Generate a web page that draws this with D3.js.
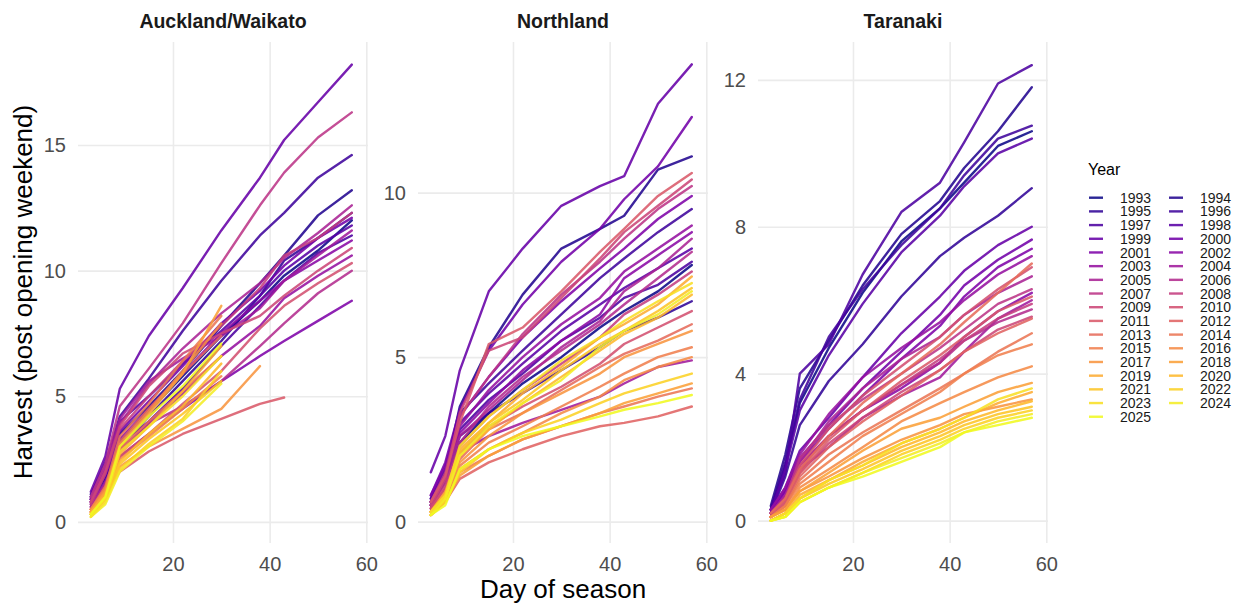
<!DOCTYPE html>
<html>
<head>
<meta charset="utf-8">
<script src="https://cdn.jsdelivr.net/npm/d3@7"></script>
<style>
  body { margin: 0; background: #fff; }
  text { font-family: "Liberation Sans", Arial, sans-serif; }
</style>
</head>
<body>
<div id="chart"></div>
<script>
// Cumulative harvest by day of season, one facet per region

const regions = ["Auckland/Waikato", "Northland", "Taranaki"];
const years = d3.range(1993, 2026);
const days = [3, 6, 9, 15, 22, 30, 38, 43, 50, 57];

// values at each day above, one row per year (1993..2025); short rows = season ended
const auckland = [
  [0.9, 1.8, 3.2, 4.4, 5.8, 7.4, 8.8, 9.8, 10.8, 12.0],
  [1.0, 2.0, 3.5, 4.6, 6.0, 7.8, 9.5, 10.6, 12.2, 13.2],
  [0.8, 1.7, 3.0, 4.2, 5.6, 7.2, 9.0, 10.4, 11.3, 12.3],
  [1.1, 2.3, 4.2, 5.7, 7.6, 9.6, 11.4, 12.3, 13.7, 14.6],
  [0.9, 1.8, 3.1, 4.0, 5.3, 7.0, 8.6, 9.6, 10.7, 11.4],
  [1.0, 2.4, 4.0, 5.0, 6.3, 7.6, 9.0, 10.0, 11.0, 11.8],
  [1.2, 2.6, 5.3, 7.4, 9.3, 11.6, 13.7, 15.2, 16.7, 18.2],
  [0.9, 2.0, 3.6, 4.8, 6.2, 7.9, 9.2, 10.2, 11.3, 12.1],
  [0.7, 1.5, 2.6, 3.5, 4.5, 5.6, 6.6, 7.2, 8.0, 8.8],
  [0.8, 1.9, 3.3, 4.5, 5.9, 7.5, 8.8, 9.6, 10.4, 11.2],
  [0.6, 1.6, 2.8, 3.9, 5.1, 6.6, 7.8, 8.9, 9.8, 10.6],
  [0.9, 2.1, 4.1, 5.6, 6.5, 7.4, 8.5, 9.6, 10.6, 11.6],
  [0.8, 2.1, 3.9, 5.5, 6.9, 8.3, 9.5, 10.5, 11.5, 12.6],
  [0.6, 1.5, 2.9, 3.9, 4.6, 5.6, 7.0, 7.9, 9.1, 10.0],
  [1.0, 2.3, 4.6, 6.1, 7.9, 10.3, 12.6, 13.9, 15.3, 16.3],
  [0.7, 1.9, 3.7, 5.0, 6.4, 7.8, 9.3, 10.6, 11.3, 12.3],
  [0.8, 2.0, 3.8, 5.4, 6.7, 7.5, 8.2, 9.0, 10.0, 10.9],
  [0.5, 1.4, 2.6, 3.5, 4.7, 6.0, 7.7, 8.6, 9.5, 10.3],
  [0.4, 1.1, 2.0, 2.8, 3.5, 4.1, 4.7, 4.95],
  [0.5, 1.3, 3.2, 4.5, 5.9, 7.4],
  [0.4, 1.2, 2.9, 4.0, 5.2, 6.6],
  [0.5, 1.4, 3.4, 4.7, 6.4, 8.2],
  [0.3, 1.1, 2.5, 3.4, 4.5, 5.8],
  [0.5, 1.3, 3.1, 4.4, 6.0, 7.9],
  [0.3, 0.9, 2.2, 3.0, 3.7, 4.5, 6.2],
  [0.4, 1.2, 3.0, 4.3, 5.9, 8.6],
  [0.4, 1.1, 2.7, 3.8, 5.2, 7.0],
  [0.3, 1.0, 2.4, 3.5, 4.6, 6.3],
  [0.3, 0.9, 2.3, 3.3, 4.3, 5.6],
  [0.2, 0.8, 2.1, 3.1, 4.1, 6.0],
  [0.3, 0.9, 2.8, 3.8, 5.0, 6.6],
  [0.2, 0.7, 2.0, 3.0, 4.0, 5.5],
  [0.3, 1.0, 3.0, 4.2, 5.4, 7.1]
];

const northland = [
  [0.5, 1.2, 2.4, 3.3, 4.2, 5.0, 5.9, 6.4, 7.0, 7.8],
  [0.6, 1.5, 3.5, 5.3, 6.9, 8.3, 8.9, 9.3, 10.7, 11.1],
  [0.6, 1.4, 2.6, 3.3, 3.9, 4.6, 5.3, 5.8, 6.2, 6.7],
  [0.7, 1.6, 3.3, 4.2, 5.2, 6.3, 7.4, 8.0, 8.8, 9.5],
  [0.5, 1.3, 2.8, 3.7, 4.5, 5.5, 6.2, 6.8, 7.2, 7.9],
  [0.7, 1.5, 3.0, 3.9, 4.8, 5.8, 6.6, 7.1, 7.7, 8.3],
  [1.5, 2.6, 4.6, 7.0, 8.3, 9.6, 10.2, 10.5, 12.7, 13.9],
  [0.8, 1.8, 3.4, 5.2, 6.6, 7.9, 8.9, 9.8, 10.8, 12.3],
  [0.8, 1.7, 3.2, 4.4, 5.6, 6.7, 7.7, 8.3, 9.2, 9.9],
  [0.6, 1.4, 2.7, 3.6, 4.6, 5.5, 6.3, 7.4, 8.1, 8.8],
  [0.5, 1.3, 2.9, 4.0, 5.0, 6.0, 6.8, 7.6, 8.3, 9.0],
  [0.4, 1.0, 2.1, 2.6, 3.0, 3.4, 3.8, 4.2, 4.7, 4.9],
  [0.6, 1.4, 2.6, 3.4, 4.3, 5.3, 6.1, 7.0, 7.7, 8.6],
  [0.5, 1.2, 2.4, 3.5, 4.4, 5.2, 6.0, 6.6, 7.4, 8.2],
  [0.6, 1.5, 3.2, 4.4, 5.7, 6.9, 7.9, 8.6, 9.5, 10.2],
  [0.4, 1.1, 2.3, 3.2, 4.0, 4.8, 5.6, 6.3, 6.9, 7.6],
  [0.5, 1.3, 3.3, 5.2, 5.6, 6.8, 8.0, 8.8, 9.6, 10.4],
  [0.4, 1.0, 2.1, 2.9, 3.5, 4.1, 4.8, 5.4, 5.9, 6.4],
  [0.6, 1.4, 3.0, 5.4, 5.9, 7.0, 8.2, 8.9, 9.9, 10.6],
  [0.2, 0.6, 1.3, 1.8, 2.2, 2.6, 2.9, 3.0, 3.2, 3.5],
  [0.3, 0.9, 1.9, 2.8, 3.3, 4.0, 4.7, 5.1, 5.5, 6.0],
  [0.3, 0.7, 1.5, 2.0, 2.5, 2.9, 3.3, 3.5, 3.8, 4.05],
  [0.3, 0.8, 1.7, 2.4, 2.9, 3.5, 4.1, 4.5, 5.0, 5.3],
  [0.2, 0.7, 1.6, 2.2, 2.7, 3.3, 3.8, 4.3, 4.7, 5.0],
  [0.3, 0.8, 1.8, 2.6, 3.3, 3.9, 4.5, 5.0, 5.4, 5.8],
  [0.2, 0.6, 1.4, 2.0, 2.5, 2.9, 3.3, 3.6, 3.9, 4.2],
  [0.3, 0.9, 2.2, 3.0, 3.9, 4.7, 5.6, 6.0, 6.6, 7.45],
  [0.3, 0.8, 2.0, 2.8, 3.6, 4.4, 5.2, 5.7, 6.2, 6.9],
  [0.2, 0.7, 2.1, 3.0, 3.7, 4.6, 5.4, 5.8, 6.4, 7.1],
  [0.2, 0.6, 1.5, 2.2, 2.7, 3.1, 3.6, 3.9, 4.2, 4.5],
  [0.3, 0.8, 2.3, 3.2, 4.0, 4.9, 5.6, 6.1, 6.7, 7.25],
  [0.2, 0.7, 2.0, 2.9, 3.6, 4.3, 5.3, 5.8, 6.3, 7.0],
  [0.2, 0.5, 1.6, 2.2, 2.6, 2.9, 3.2, 3.4, 3.6, 3.85]
];

const taranaki = [
  [0.3, 1.5, 3.2, 4.7, 6.2, 7.6, 8.5, 9.2, 10.2, 10.6],
  [0.4, 1.8, 3.6, 4.9, 6.4, 7.8, 8.7, 9.6, 10.6, 11.8],
  [0.2, 1.2, 2.6, 3.8, 4.8, 6.1, 7.2, 7.7, 8.3, 9.05],
  [0.3, 1.6, 3.3, 5.0, 6.3, 7.5, 8.5, 9.4, 10.4, 10.75],
  [0.3, 1.3, 4.0, 4.8, 6.7, 8.4, 9.2, 10.3, 11.9, 12.4],
  [0.2, 1.4, 3.0, 4.5, 5.9, 7.3, 8.3, 9.1, 10.0, 10.4],
  [0.3, 0.9, 1.9, 2.8, 3.9, 5.1, 6.1, 6.8, 7.5, 8.0],
  [0.3, 0.8, 1.7, 2.6, 3.6, 4.6, 5.6, 6.4, 7.1, 7.65],
  [0.2, 0.8, 1.6, 2.5, 3.4, 4.4, 5.3, 6.1, 6.9, 7.4],
  [0.2, 0.7, 1.5, 2.3, 3.0, 3.6, 4.3, 5.0, 5.7, 6.2],
  [0.3, 0.9, 1.8, 2.9, 3.9, 4.7, 5.4, 6.0, 6.7, 7.2],
  [0.2, 0.6, 1.4, 2.0, 2.8, 3.4, 3.9, 4.6, 5.5, 6.0],
  [0.2, 0.7, 1.6, 2.7, 3.6, 4.4, 5.0, 5.6, 6.2, 6.65],
  [0.2, 0.6, 1.5, 2.3, 3.0, 3.7, 4.3, 4.9, 5.4, 5.75],
  [0.2, 0.6, 1.7, 2.6, 3.3, 4.0, 4.7, 5.2, 5.9, 6.3],
  [0.1, 0.5, 1.4, 2.3, 3.0, 3.7, 4.4, 4.9, 5.5, 5.9],
  [0.1, 0.5, 1.3, 2.1, 2.8, 3.5, 4.1, 4.6, 5.2, 5.55],
  [0.2, 0.6, 1.5, 2.5, 3.4, 4.2, 5.0, 5.6, 6.3, 6.9],
  [0.1, 0.5, 1.3, 2.2, 3.0, 3.8, 4.5, 5.0, 5.7, 6.1],
  [0.1, 0.4, 1.2, 2.0, 2.7, 3.4, 4.1, 4.6, 5.1, 5.5],
  [0.2, 0.6, 1.4, 2.3, 3.2, 4.0, 4.8, 5.4, 6.2, 7.0],
  [0.1, 0.4, 1.1, 1.8, 2.4, 3.0, 3.6, 4.0, 4.6, 5.1],
  [0.1, 0.4, 1.0, 1.6, 2.3, 2.9, 3.5, 4.0, 4.5, 4.8],
  [0.1, 0.3, 0.9, 1.4, 2.0, 2.7, 3.2, 3.5, 3.9, 4.2],
  [0.1, 0.3, 0.8, 1.2, 1.7, 2.2, 2.6, 2.9, 3.1, 3.3],
  [0.1, 0.3, 0.8, 1.3, 1.9, 2.5, 2.8, 3.1, 3.5, 3.75],
  [0.0, 0.2, 0.7, 1.1, 1.6, 2.1, 2.5, 2.8, 3.2, 3.5],
  [0.0, 0.2, 0.6, 1.1, 1.5, 2.0, 2.4, 2.7, 3.0, 3.25],
  [0.0, 0.2, 0.6, 1.0, 1.4, 1.9, 2.3, 2.6, 2.9, 3.1],
  [0.0, 0.1, 0.5, 0.9, 1.3, 1.8, 2.2, 2.5, 2.8, 3.0],
  [0.0, 0.2, 0.6, 1.1, 1.5, 2.1, 2.5, 2.8, 3.3, 3.6],
  [0.0, 0.1, 0.5, 0.9, 1.3, 1.7, 2.1, 2.4, 2.7, 2.9],
  [0.0, 0.1, 0.5, 0.9, 1.2, 1.6, 2.0, 2.4, 2.6, 2.8]
];

const harvest = [auckland, northland, taranaki];
const yLimits = [[-0.84, 19.1], [-0.65, 14.58], [-0.61, 13.03]];
const yTicks = [[0, 5, 10, 15], [0, 5, 10], [0, 4, 8, 12]];
const xLimits = [0.35, 60.35];
const xTicks = [20, 40, 60];

const width = 1242;
const height = 605;
const panelLefts = [78, 418, 758];
const panelW = 290;
const panelTop = 42;
const panelBottom = 543;

const svg = d3.select("#chart")
    .append("svg")
    .attr("width", width)
    .attr("height", height);

const color = d3.scaleSequential(d3.interpolatePlasma).domain([1993, 2025]);

regions.forEach((region, r) => {
    const g = svg.append("g").attr("transform", `translate(${panelLefts[r]},0)`);

    const x = d3.scaleLinear().domain(xLimits).range([0, panelW]);
    const y = d3.scaleLinear().domain(yLimits[r]).range([panelBottom, panelTop]);

    // grid + tick labels
    const yAxis = g.append("g")
        .call(d3.axisLeft(y).tickValues(yTicks[r]).tickSize(-panelW).tickPadding(12));
    const xAxis = g.append("g")
        .attr("transform", `translate(0,${panelBottom})`)
        .call(d3.axisBottom(x).tickValues(xTicks).tickSize(-(panelBottom - panelTop)).tickPadding(14));

    [yAxis, xAxis].forEach(a => {
        a.select(".domain").remove();
        a.selectAll(".tick line").attr("stroke", "#ebebeb").attr("stroke-width", 1.6);
        a.selectAll(".tick text")
            .attr("fill", "#4d4d4d")
            .attr("font-size", "20px")
            .attr("font-family", "'Liberation Sans', Arial, sans-serif");
    });

    const line = d3.line()
        .x((d, i) => x(days[i]))
        .y(d => y(d));

    g.selectAll("path.season")
        .data(harvest[r])
        .enter()
        .append("path")
        .attr("class", "season")
        .attr("d", line)
        .attr("fill", "none")
        .attr("stroke", (d, i) => color(years[i]))
        .attr("stroke-opacity", 0.88)
        .attr("stroke-width", 2.4)
        .attr("stroke-linejoin", "round")
        .attr("stroke-linecap", "round");

    // strip title
    g.append("text")
        .attr("x", panelW / 2)
        .attr("y", 28)
        .attr("text-anchor", "middle")
        .attr("font-size", "19.5px")
        .attr("font-weight", "bold")
        .attr("fill", "#1a1a1a")
        .text(region);
});

// axis titles
svg.append("text")
    .attr("x", 563)
    .attr("y", 598)
    .attr("text-anchor", "middle")
    .attr("font-size", "26px")
    .attr("fill", "#000")
    .text("Day of season");

svg.append("text")
    .attr("transform", "translate(32,292) rotate(-90)")
    .attr("text-anchor", "middle")
    .attr("font-size", "26px")
    .attr("fill", "#000")
    .text("Harvest (post opening weekend)");

// legend
const legend = svg.append("g");
legend.append("text")
    .attr("x", 1088)
    .attr("y", 175)
    .attr("font-size", "16px")
    .attr("fill", "#000")
    .text("Year");

years.forEach((yr, i) => {
    const col = i % 2;
    const row = Math.floor(i / 2);
    const cy = 197.7 + row * 13.69;
    const kx = col === 0 ? 1089 : 1169;
    legend.append("line")
        .attr("x1", kx).attr("x2", kx + 14)
        .attr("y1", cy).attr("y2", cy)
        .attr("stroke", color(yr))
        .attr("stroke-opacity", 0.88)
        .attr("stroke-width", 2.4);
    legend.append("text")
        .attr("x", kx + 31)
        .attr("y", cy)
        .attr("dy", "0.36em")
        .attr("font-size", "14px")
        .attr("fill", "#1a1a1a")
        .text(yr);
});
</script>
</body>
</html>
